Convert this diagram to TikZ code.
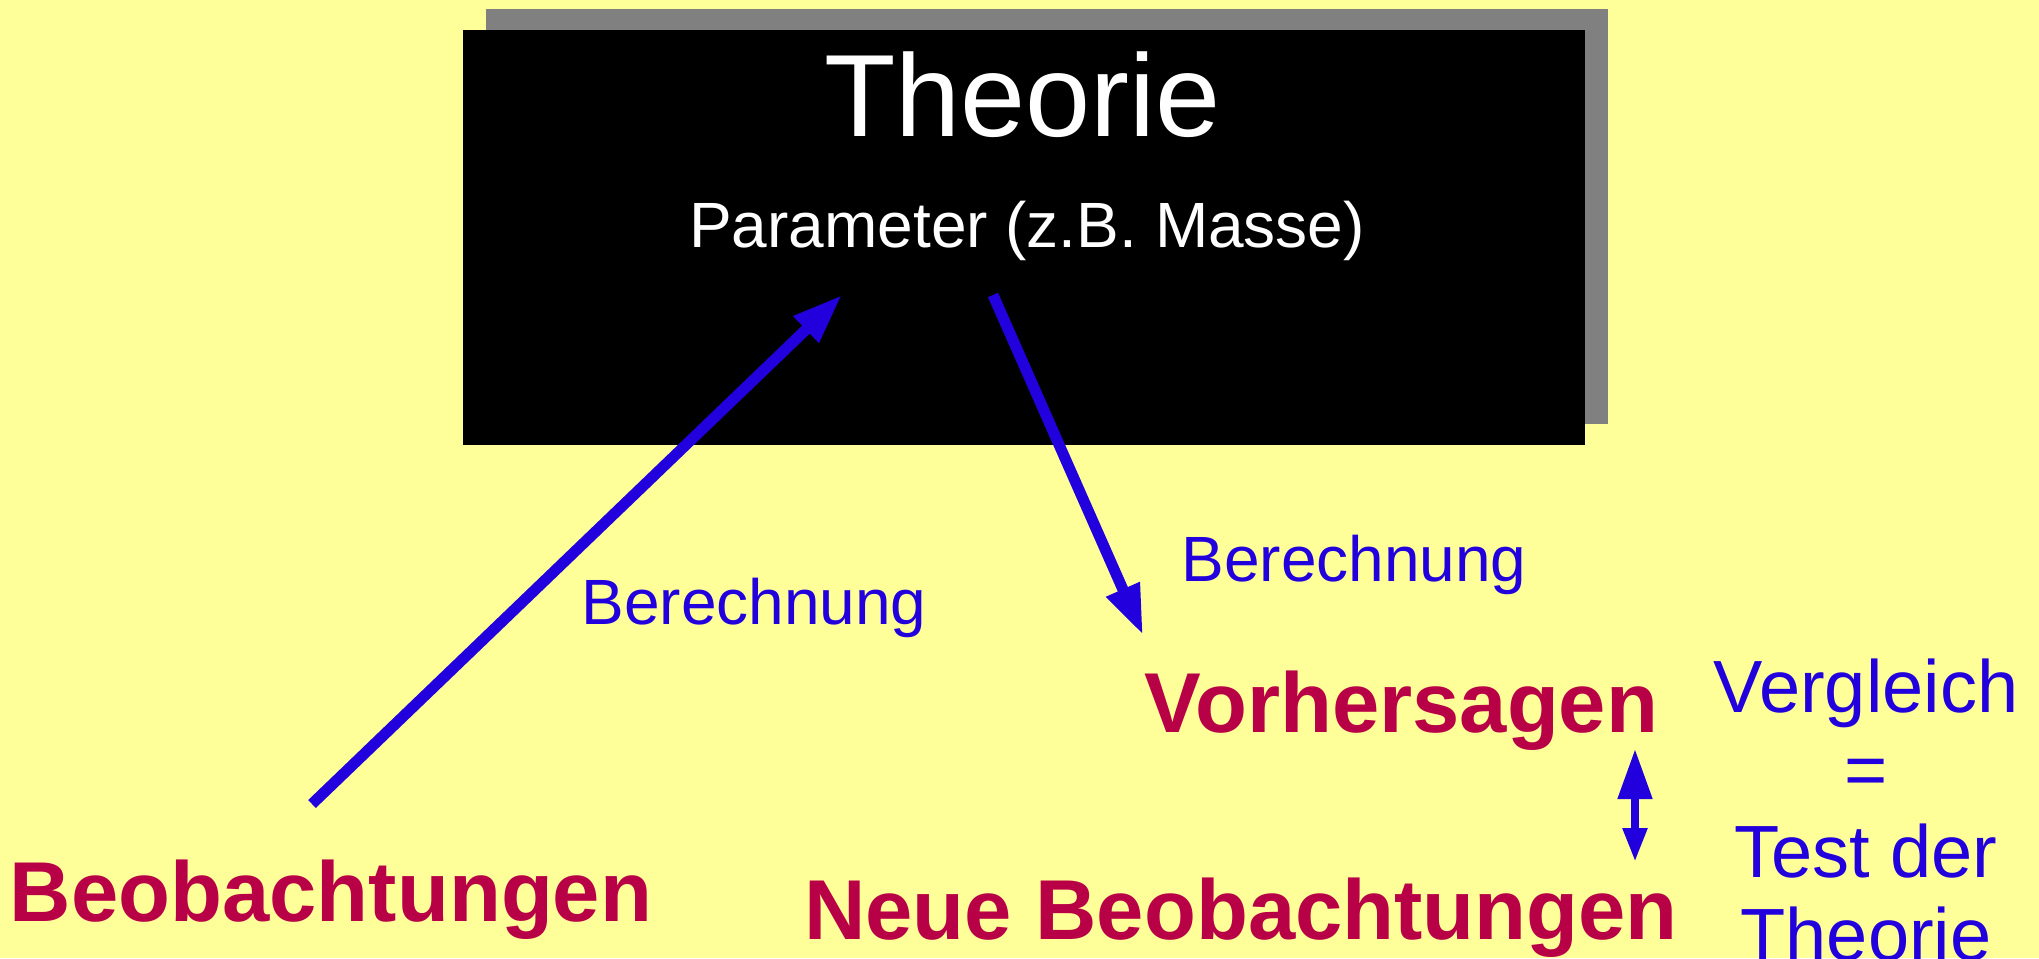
\documentclass[tikz,border=0pt]{standalone}
\usepackage{fontspec}
\setmainfont{Liberation Sans}
\usepackage{xcolor}
\usepackage{tikz}
\usetikzlibrary{positioning, shadows, arrows.meta}

\definecolor{bgyellow}{RGB}{255,255,153}
\definecolor{arrowblue}{RGB}{34,0,221}
\definecolor{obscrimson}{RGB}{184,0,71}
\definecolor{shadowgray}{RGB}{128,128,128}

\begin{document}
\begin{tikzpicture}[
  x=0.5pt, y=-0.5pt,
  theobox/.style={fill=black, minimum width=561pt, minimum height=207.5pt, inner sep=0pt,
    drop shadow={shadow xshift=11.5pt, shadow yshift=10.5pt, fill=shadowgray, opacity=1}},
  titletxt/.style={text=white, inner sep=0pt, anchor=base, font=\fontsize{58.5}{62}\selectfont},
  partxt/.style={text=white, inner sep=0pt, anchor=base, font=\fontsize{32}{36}\selectfont},
  calctxt/.style={text=arrowblue, inner sep=0pt, anchor=base, font=\fontsize{32}{36}\selectfont},
  obstxt/.style={text=obscrimson, inner sep=0pt, anchor=base, font=\fontsize{42.5}{46}\selectfont\bfseries},
  cmptxt/.style={text=arrowblue, inner sep=0pt, anchor=base, align=center, font=\fontsize{37}{41.25}\selectfont},
  flow/.style={draw=arrowblue, line width=5.5pt, -{Triangle[length=25pt, width=17pt]}},
  cmpflow/.style={draw=arrowblue, line width=4pt,
    {Triangle[length=25pt, width=16.5pt]}-{Triangle[length=17pt, width=11.5pt]}}
]
  \useasboundingbox[fill=bgyellow] (0,0) rectangle (2039,958);

  %---------------- THEORY BOX ----------------%
  \node[theobox] (theo) at (1024,237.5) {};
  \node[titletxt] (title) at (1022.5,136) {Theorie};
  \node[partxt] (param) at (1027,247) {Parameter (z.B. Masse)};

  %---------------- OBSERVATIONS ----------------%
  \node[obstxt] (beob) at (331,921) {Beobachtungen};
  \node[obstxt] (vorher) at (1401.5,732) {Vorhersagen};
  \node[obstxt] (neue) at (1241,939) {Neue Beobachtungen};

  \node[calctxt] (calc1) at (754,624) {Berechnung};
  \node[calctxt] (calc2) at (1354,581) {Berechnung};

  \node[cmptxt] (cmp) at (1866,960) {Vergleich\\=\\Test der\\Theorie};

  %---------------- ARROWS ----------------%
  \coordinate (fitStart) at (312,804);
  \coordinate (fitEnd) at (842,295);
  \coordinate (predStart) at (993,295);
  \coordinate (predEnd) at (1143,635);
  \coordinate (cmpTop) at (1635,749);
  \coordinate (cmpBot) at (1635,862);

  \draw[flow] (fitStart) -- (fitEnd);
  \draw[flow] (predStart) -- (predEnd);
  \draw[cmpflow] (cmpTop) -- (cmpBot);

\end{tikzpicture}
\end{document}
